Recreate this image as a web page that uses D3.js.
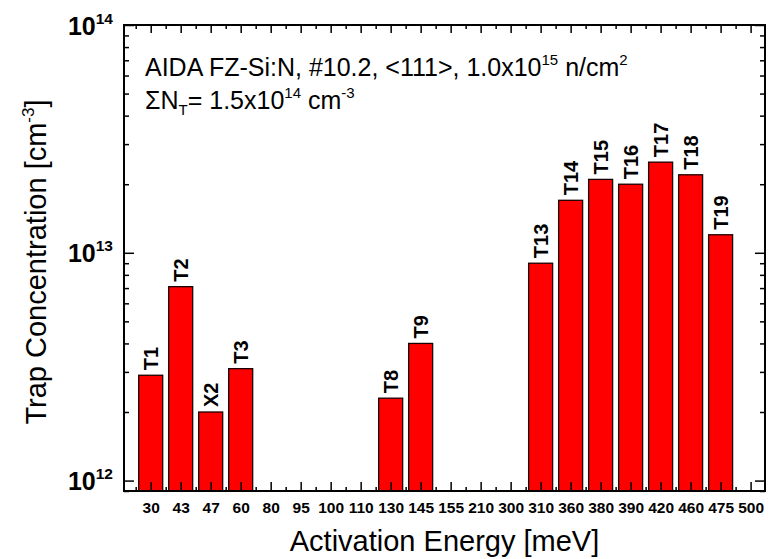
<!DOCTYPE html>
<html>
<head>
<meta charset="utf-8">
<script src="https://cdn.jsdelivr.net/npm/d3@7"></script>
<style>
  body { margin: 0; background: #fff; }
  text { font-family: "Liberation Sans", Arial, Helvetica, sans-serif; fill: #000; }
</style>
</head>
<body>
<svg id="chart" width="771" height="559"></svg>
<script>
// Activation-energy categories along the x axis (meV)
const energies = ["30","43","47","60","80","95","100","110","130","145","155","210","300","310","360","380","390","420","460","475","500"];
// Traps found and their concentrations (cm^-3)
const trapNames    = ["T1","T2","X2","T3","T8","T9","T13","T14","T15","T16","T17","T18","T19"];
const trapEnergies = ["30","43","47","60","130","145","310","360","380","390","420","460","475"];
const trapConc     = [2.9e12, 7.1e12, 2.0e12, 3.1e12, 2.3e12, 4.0e12, 9.0e12, 1.7e13, 2.1e13, 2.0e13, 2.5e13, 2.2e13, 1.2e13];
// Decade exponents labelled on the y axis
const yDecades = [12, 13, 14];

const svg = d3.select("#chart");
const plotL = 124, plotR = 765, plotT = 25, plotB = 491;

// categories sit at integer positions 1..21
const x = d3.scaleLinear().domain([0.11, 21.48]).range([plotL, plotR]);
const y = d3.scaleLog().domain([9e11, 1e14]).range([plotB, plotT]);
const catPos = e => energies.indexOf(e) + 1;
const halfBar = 0.4;

const traps = trapNames.map((n, i) => ({ name: n, energy: trapEnergies[i], value: trapConc[i] }));

// bars
svg.append("g").selectAll("rect").data(traps).join("rect")
  .attr("x", d => x(catPos(d.energy) - halfBar))
  .attr("width", d => x(catPos(d.energy) + halfBar) - x(catPos(d.energy) - halfBar))
  .attr("y", d => y(d.value))
  .attr("height", d => plotB - y(d.value))
  .attr("fill", "#ff0000")
  .attr("stroke", "#1a0000")
  .attr("stroke-width", 1.3);

// rotated trap labels above each bar
svg.append("g").selectAll("text").data(traps).join("text")
  .attr("transform", d => `translate(${x(catPos(d.energy)) + 7},${y(d.value) - 5}) rotate(-90)`)
  .attr("font-size", 20)
  .attr("font-weight", "bold")
  .text(d => d.name);

// axes with inward ticks
const majorX = d3.range(1, energies.length + 1);
const minorX = d3.range(0.5, energies.length, 1);
const majorY = yDecades.map(p => Math.pow(10, p));
const minorY = [];
[11, 12, 13].forEach(p => d3.range(2, 10).forEach(m => {
  const v = m * Math.pow(10, p);
  if (v >= 9e11 && v < 1e14) minorY.push(v);
}));

function styleAxis(g) {
  g.select(".domain").remove();
  g.selectAll(".tick line").attr("stroke", "#000").attr("stroke-width", 1.5);
}

const axes = svg.append("g");
axes.append("g").attr("transform", `translate(0,${plotB})`)
  .call(d3.axisBottom(x).tickValues(majorX).tickSizeInner(-9).tickSizeOuter(0).tickPadding(11)
    .tickFormat(i => energies[i - 1]))
  .call(styleAxis)
  .call(g => g.selectAll("text").attr("font-size", 15.5).attr("font-weight", "bold")
    .attr("font-family", '"Liberation Sans", Arial, sans-serif'));
axes.append("g").attr("transform", `translate(0,${plotB})`)
  .call(d3.axisBottom(x).tickValues(minorX).tickSizeInner(-4).tickSizeOuter(0).tickFormat(""))
  .call(styleAxis);
axes.append("g").attr("transform", `translate(0,${plotT})`)
  .call(d3.axisTop(x).tickValues(majorX).tickSizeInner(-8).tickSizeOuter(0).tickFormat(""))
  .call(styleAxis);
axes.append("g").attr("transform", `translate(0,${plotT})`)
  .call(d3.axisTop(x).tickValues(minorX).tickSizeInner(-4).tickSizeOuter(0).tickFormat(""))
  .call(styleAxis);
axes.append("g").attr("transform", `translate(${plotL},0)`)
  .call(d3.axisLeft(y).tickValues(majorY).tickSizeInner(-10).tickSizeOuter(0).tickFormat(""))
  .call(styleAxis);
axes.append("g").attr("transform", `translate(${plotL},0)`)
  .call(d3.axisLeft(y).tickValues(minorY).tickSizeInner(-5).tickSizeOuter(0).tickFormat(""))
  .call(styleAxis);
axes.append("g").attr("transform", `translate(${plotR},0)`)
  .call(d3.axisRight(y).tickValues(majorY).tickSizeInner(-10).tickSizeOuter(0).tickFormat(""))
  .call(styleAxis);
axes.append("g").attr("transform", `translate(${plotR},0)`)
  .call(d3.axisRight(y).tickValues(minorY).tickSizeInner(-5).tickSizeOuter(0).tickFormat(""))
  .call(styleAxis);

// frame
svg.append("rect")
  .attr("x", plotL).attr("y", plotT)
  .attr("width", plotR - plotL).attr("height", plotB - plotT)
  .attr("fill", "none").attr("stroke", "#000").attr("stroke-width", 2);

// y decade labels 10^n
const yLab = svg.append("g").selectAll("text").data(yDecades).join("text")
  .attr("x", 113)
  .attr("y", p => y(Math.pow(10, p)) + 9.5)
  .attr("text-anchor", "end")
  .attr("font-weight", "bold")
  .attr("font-size", 25);
yLab.append("tspan").text("10");
yLab.append("tspan").attr("font-size", 15.5).attr("dy", -11).text(p => p);

// axis titles
const yTitle = svg.append("text")
  .attr("transform", `translate(46,${(plotT + plotB) / 2 + 4}) rotate(-90)`)
  .attr("text-anchor", "middle")
  .attr("font-size", 29);
yTitle.append("tspan").text("Trap Concentration [cm");
yTitle.append("tspan").attr("font-size", 17).attr("dy", -12).text("-3");
yTitle.append("tspan").attr("dy", 12).text("]");

svg.append("text")
  .attr("x", (plotL + plotR) / 2).attr("y", 551)
  .attr("text-anchor", "middle")
  .attr("font-size", 29)
  .text("Activation Energy [meV]");

// sample annotation
const note1 = svg.append("text").attr("x", 145).attr("y", 76).attr("font-size", 25);
note1.append("tspan").text("AIDA FZ-Si:N, #10.2, <111>, 1.0x10");
note1.append("tspan").attr("font-size", 15).attr("dy", -11).text("15");
note1.append("tspan").attr("dy", 11).text(" n/cm");
note1.append("tspan").attr("font-size", 15).attr("dy", -11).text("2");

const note2 = svg.append("text").attr("x", 145).attr("y", 109).attr("font-size", 25);
note2.append("tspan").text("\u03A3N");
note2.append("tspan").attr("font-size", 15).attr("dy", 6).text("T");
note2.append("tspan").attr("dy", -6).text("= 1.5x10");
note2.append("tspan").attr("font-size", 15).attr("dy", -11).text("14");
note2.append("tspan").attr("dy", 11).text(" cm");
note2.append("tspan").attr("font-size", 15).attr("dy", -11).text("-3");
</script>
</body>
</html>
